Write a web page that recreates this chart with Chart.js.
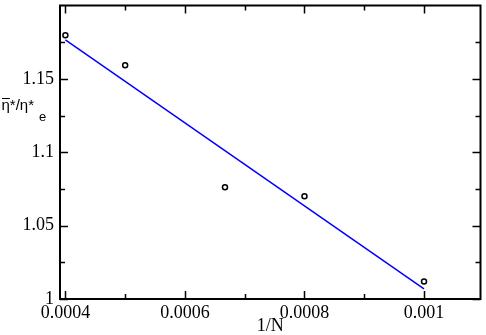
<!DOCTYPE html>
<html>
<head>
<meta charset="utf-8">
<script src="https://cdn.jsdelivr.net/npm/chart.js@4/dist/chart.umd.min.js"></script>
<style>
html,body{margin:0;padding:0;background:#fff;}
#c{display:block;}
</style>
</head>
<body>
<canvas id="c" width="486" height="335"></canvas>
<script>
// Data
const xValues = [0.0004, 0.0005, 0.000667, 0.0008, 0.001];
const yValues = [1.1797, 1.1592, 1.0762, 1.0701, 1.0119];
const fitX = [0.0004, 0.001];
const fitY = [1.1766, 1.0069];
const xTicks = [0.0004, 0.0006, 0.0008, 0.001];
const xTickLabels = ['0.0004', '0.0006', '0.0008', '0.001'];
const xMinorTicks = [0.0005, 0.0007, 0.0009];
const yTicks = [1, 1.05, 1.1, 1.15];
const yTickLabels = ['1', '1.05', '1.1', '1.15'];
const yMinorTicks = [1.025, 1.075, 1.125, 1.175];

const serif = '"Liberation Serif", "Times New Roman", serif';
const sans = '"Liberation Sans", Arial, sans-serif';

const framePlugin = {
  id: 'frame',
  afterDraw(chart) {
    const {ctx, chartArea: a, scales: {x, y}} = chart;
    ctx.save();
    ctx.strokeStyle = '#000';
    // ticks (inward, all four sides)
    ctx.lineWidth = 1.5;
    const major = 8, minor = 5;
    ctx.beginPath();
    const xt = (v, len) => {
      const px = Math.round(x.getPixelForValue(v)) + 0.5;
      ctx.moveTo(px, a.bottom); ctx.lineTo(px, a.bottom - len);
      ctx.moveTo(px, a.top); ctx.lineTo(px, a.top + len);
    };
    const yt = (v, len) => {
      const py = Math.round(y.getPixelForValue(v)) + 0.5;
      ctx.moveTo(a.left, py); ctx.lineTo(a.left + len, py);
      ctx.moveTo(a.right, py); ctx.lineTo(a.right - len, py);
    };
    xTicks.forEach(v => xt(v, major));
    xMinorTicks.forEach(v => xt(v, minor));
    yTicks.forEach(v => yt(v, major));
    yMinorTicks.forEach(v => yt(v, minor));
    ctx.stroke();
    // frame
    ctx.lineWidth = 2;
    ctx.strokeRect(a.left, a.top, a.right - a.left, a.bottom - a.top);
    // y-axis title: η̄*/η*_e (horizontal)
    ctx.fillStyle = '#000';
    ctx.textBaseline = 'alphabetic';
    ctx.textAlign = 'left';
    ctx.font = '15px ' + sans;
    let cx = 1.5;
    const base = 110;
    const etaW = ctx.measureText('η').width;
    ctx.fillText('η', cx, base);
    ctx.lineWidth = 1;
    ctx.beginPath();
    ctx.moveTo(cx + 0.5, 98.5); ctx.lineTo(cx + etaW, 98.5);
    ctx.stroke();
    cx += etaW;
    const rest = '*/η*';
    ctx.fillText(rest, cx, base);
    cx += ctx.measureText(rest).width + 5;
    ctx.font = '13px ' + sans;
    ctx.fillText('e', cx, 121);
    ctx.restore();
  }
};

new Chart(document.getElementById('c'), {
  type: 'scatter',
  data: {
    datasets: [
      {
        label: 'fit',
        data: fitX.map((v, i) => ({x: v, y: fitY[i]})),
        showLine: true,
        borderColor: '#0000ff',
        borderWidth: 1.5,
        pointRadius: 0,
        fill: false
      },
      {
        label: 'data',
        data: xValues.map((v, i) => ({x: v, y: yValues[i]})),
        showLine: false,
        pointStyle: 'circle',
        pointRadius: 2.5,
        borderWidth: 1.5,
        borderColor: '#000',
        backgroundColor: '#fff'
      }
    ]
  },
  options: {
    responsive: false,
    animation: false,
    devicePixelRatio: 1,
    layout: {padding: {top: 2, right: 4, left: 0, bottom: 0}},
    plugins: {legend: {display: false}, tooltip: {enabled: false}},
    scales: {
      x: {
        type: 'linear',
        min: 0.000391,
        max: 0.0010945,
        grid: {display: false, drawTicks: false},
        border: {display: false},
        afterBuildTicks: s => { s.ticks = xTicks.map(v => ({value: v})); },
        afterFit: s => { s.height = 36; s.paddingLeft = 0; s.paddingRight = 0; },
        ticks: {
          autoSkip: false,
          maxRotation: 0,
          padding: 3,
          color: '#000',
          font: {family: serif, size: 18},
          callback: (v, i) => xTickLabels[i]
        },
        title: {
          display: true,
          text: '1/N',
          color: '#000',
          font: {family: serif, size: 18, lineHeight: 1},
          padding: {top: 0, bottom: 0}
        }
      },
      y: {
        type: 'linear',
        min: 1,
        max: 1.2,
        grid: {display: false, drawTicks: false},
        border: {display: false},
        afterBuildTicks: s => { s.ticks = yTicks.map(v => ({value: v})); },
        afterFit: s => { s.width = 60; s.paddingTop = 0; s.paddingBottom = 0; },
        ticks: {
          autoSkip: false,
          padding: 6,
          color: '#000',
          font: {family: serif, size: 18},
          callback: (v, i) => yTickLabels[i]
        }
      }
    }
  },
  plugins: [framePlugin]
});
</script>
</body>
</html>
